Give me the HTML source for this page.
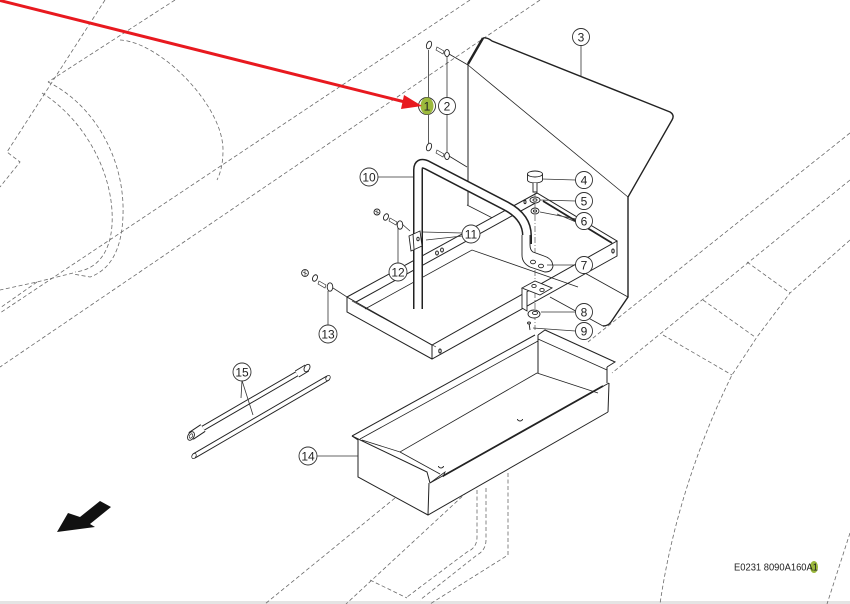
<!DOCTYPE html>
<html><head><meta charset="utf-8"><style>
html,body{margin:0;padding:0;background:#fff;}
svg{display:block;}
text{font-family:"Liberation Sans",Arial,sans-serif;}
</style></head><body>
<svg width="850" height="604" viewBox="0 0 850 604" xmlns="http://www.w3.org/2000/svg">
<rect width="850" height="604" fill="#fff"/>
<rect y="601" width="850" height="3" fill="#e4e4e4"/>

<!-- background dashed outlines -->
<g fill="none" stroke="#6a6a6a" stroke-width="0.8" stroke-dasharray="4 2.5">
 <path d="M105,0 L7,152 L20,162 L0,187"/>
 <path d="M175,0 L48,82"/>
 <path d="M120,40 C160,42 223,105 223,150 C223,165 220,174 217,180"/>
 <path d="M48,82 C95,105 125,160 123,215 C122,250 110,270 90,277 L73,274"/>
 <path d="M42,93 C85,120 115,175 112,225 C110,255 95,270 75,272"/>
 <path d="M73,273 L37,282 L0,290"/>
 <path d="M37,282 L0,308"/>
 <path d="M470,0 L0,313"/>
 <path d="M540,0 L0,367"/>
 <path d="M850,133 L588,342"/>
 <path d="M850,180 L612,373"/>
 <path d="M850,240 L790,293 L757,337 L732,375 C712,415 675,500 660,604"/>
 <path d="M747,262 L790,293 M703,300 L755,337 M663,335 L732,375"/>
 <path d="M850,533 L827,604"/>
 <path d="M395,498 L265,604"/>
 <path d="M467,492 L346,604"/>
 <path d="M477,490 L477,537 Q477,548 467,552 L407,597"/>
 <path d="M486,488 L486,540 Q486,550 477,555 L420,600"/>
 <path d="M508,473 L508,555 L430,604"/>
 <path d="M370,580 L407,598"/>
</g>

<!-- panel 3 -->
<path d="M468,63 L483,38 Q487,37 492,41 L670,112 Q675,115 672,120 L628,197 L628,297 L611,322 Q608,326 603,326 L550,297 L520,232 L467,205 Z" fill="#fff"/>
<g fill="none" stroke="#222" stroke-width="1">
 <path d="M468,205 L468,63"/>
 <path d="M468,64 L483,38" stroke-width="2.4"/>
 <path d="M483,38 Q487,37 492,41 L670,112 Q675,115 672,120 L628,197 L628,297 L611,322 Q608,326 603,326" stroke-width="1.4"/>
 <path d="M468,65 L628,197" stroke-width="0.8"/>
 <path d="M467,205 L520,232" stroke-width="0.8"/>
 <path d="M628,297 L583,272" stroke-width="0.8"/>
 <path d="M603,326 L550,297" stroke-width="0.8"/>
 <path d="M449,54 L468,65" stroke-width="0.8"/>
 <path d="M449,156 L467,167" stroke-width="0.8"/>
</g>

<!-- frame -->
<path d="M347,297 L537,193 L617,241 L617,256 L432,359 L347,312 Z" fill="#fff"/>
<g fill="none" stroke="#222" stroke-width="1">
 <path d="M347,297 L537,193 L617,241 L432,345 Z"/>
 <path d="M347,297 L347,312 L432,359 L617,256 L617,241"/>
 <path d="M432,345 L432,359"/>
 <path d="M356,302 L539,201"/>
 <path d="M543,201 L612,243" stroke-width="1.8"/>
 <path d="M365,309 L472,250 L578,287" stroke-width="0.8"/>
 <path d="M352,301 L436,347" stroke-width="0.7"/>
 <ellipse cx="437" cy="253" rx="1.4" ry="2"/>
 <ellipse cx="442" cy="250" rx="1.4" ry="2"/>
 <ellipse cx="613" cy="251" rx="1.2" ry="2"/>
 <ellipse cx="440" cy="351" rx="1.2" ry="2"/>
 <ellipse cx="525" cy="202" rx="1" ry="1.7"/>
</g>

<!-- handle 10 -->
<path d="M418,309 L418,170 Q418,161 427,165 L506,206 Q527,217 527,236 L527,244" stroke="#222" stroke-width="10" fill="none"/>
<path d="M418,310 L418,170 Q418,161 427,165 L506,206 Q527,217 527,236 L527,245" stroke="#fff" stroke-width="7" fill="none"/>

<!-- centerline -->
<path d="M535,193 L535,330" stroke="#333" stroke-width="0.6" stroke-dasharray="6 2 1 2" fill="none"/>

<!-- brackets & hardware -->
<g stroke="#222" stroke-width="0.9" fill="#fff">
 <path d="M522,235 L522,255 Q522,263 530,267 L545,272 Q552,272 553,266 L552,262 Q550,258 544,256 L533,252 Q530,250 530,245 L530,235"/>
 <ellipse cx="533" cy="262" rx="2.5" ry="1.8"/>
 <ellipse cx="541" cy="266" rx="2.5" ry="1.8"/>
 <path d="M522,288 L535,281 L552,288 L540,295 Z"/>
 <path d="M522,288 L522,308 L527,311 L527,292" />
 <ellipse cx="534" cy="286" rx="2.2" ry="1.6"/>
 <ellipse cx="542" cy="290" rx="2.2" ry="1.6"/>
 <ellipse cx="534" cy="314" rx="6" ry="4"/>
 <ellipse cx="535" cy="313" rx="2.5" ry="1.6"/>
 <path d="M529,323 L530,330" fill="none"/>
 <ellipse cx="529" cy="323" rx="1.5" ry="1"/>
 <!-- knob 4 -->
 <path d="M527.5,174 L527.5,180 A7.5,3 0 0 0 542.5,180 L542.5,174"/>
 <ellipse cx="535" cy="174" rx="7.5" ry="3"/>
 <path d="M533,183 L533,192 L537,192 L537,183" />
 <!-- washers 5,6 -->
 <ellipse cx="535" cy="200" rx="5" ry="3"/>
 <ellipse cx="535" cy="200" rx="2" ry="1.2"/>
 <ellipse cx="535" cy="211" rx="4" ry="3"/>
 <ellipse cx="535" cy="211" rx="1.6" ry="1.1"/>
 <!-- clip 11 -->
 <path d="M409,236 L420,231 L422,246 L411,251 Z"/>
 <path d="M413,234 L414,249" fill="none"/>
 <ellipse cx="418" cy="239" rx="1.2" ry="1.8"/>
 <!-- fasteners 12 -->
 <circle cx="377" cy="212" r="3"/>
 <path d="M375,211 L379,213 M377,210 L377,214" fill="none" stroke-width="0.6"/>
 <ellipse cx="386" cy="217" rx="2.3" ry="3.4" transform="rotate(25 386 217)"/>
 <path d="M390,218 L397,222 L396,225 L389,221 Z" stroke-width="0.6"/>
 <ellipse cx="400" cy="225" rx="2.8" ry="4.2"/>
 <!-- fasteners 13 -->
 <circle cx="305" cy="273" r="3.4"/>
 <path d="M303,272 L307,274 M305,270 L305,276" fill="none" stroke-width="0.6"/>
 <ellipse cx="315" cy="278" rx="2.3" ry="3.4" transform="rotate(25 315 278)"/>
 <path d="M319,281 L326,285 L325,288 L318,284 Z" stroke-width="0.6"/>
 <ellipse cx="330" cy="287" rx="2.8" ry="4.2"/>
 <!-- top washers / bolts 1,2 -->
 <ellipse cx="429" cy="45" rx="2.4" ry="4" transform="rotate(20 429 45)"/>
 <ellipse cx="429" cy="147" rx="2.4" ry="4" transform="rotate(20 429 147)"/>
 <path d="M437,47 L444,51 L443,54 L436,50 Z" stroke-width="0.6"/>
 <ellipse cx="447" cy="53" rx="2.4" ry="3.6"/>
 <path d="M437,150 L444,154 L443,157 L436,153 Z" stroke-width="0.6"/>
 <ellipse cx="447" cy="156" rx="2.4" ry="3.6"/>
</g>

<!-- tray 14 -->
<path d="M352,436 L535,335 L545,329 L615,362 L607,367 L608,412 L428,515 L358,477 L358,440 Z" fill="#fff"/>
<g fill="none" stroke="#222" stroke-width="1">
 <path d="M352,436 L535,335"/>
 <path d="M360,439 L538,341" stroke-width="0.8"/>
 <path d="M362,440 L400,452 L537,373" stroke-width="0.8"/>
 <path d="M538,335 L538,373"/>
 <path d="M538,335 L545,330 L615,362 L607,367"/>
 <path d="M538,339 L607,370" stroke-width="0.8"/>
 <path d="M537,373 L598,393" stroke-width="0.8"/>
 <path d="M607,367 L607,383"/>
 <path d="M609,383 L608,412"/>
 <path d="M430,483 L609,383"/>
 <path d="M443,476 L603,386" stroke-width="1.8"/>
 <path d="M430,483 L445,472 L443,477" stroke-width="0.8"/>
 <path d="M400,452 L440,474" stroke-width="0.8"/>
 <path d="M352,436 L427,472 L430,483"/>
 <path d="M352,436 L358,440 L358,477 L428,515 L608,412"/>
 <path d="M429,483 L428,515"/>
 <path d="M517.5,419 A2.5,2 0 0 0 522.5,419"/>
 <path d="M438.5,466 A2.5,2 0 0 0 443.5,466"/>
</g>

<!-- tools 15 -->
<g fill="none">
 <path d="M194,456 L328,378" stroke="#222" stroke-width="5.5"/>
 <path d="M194,456 L328,378" stroke="#fff" stroke-width="3.6"/>
 <ellipse cx="194" cy="456" rx="2" ry="2.8" transform="rotate(30 194 456)" fill="#fff" stroke="#222" stroke-width="0.8"/>
 <ellipse cx="328" cy="378" rx="2" ry="2.8" transform="rotate(30 328 378)" fill="#fff" stroke="#222" stroke-width="0.8"/>
 <path d="M200,430 L300,372" stroke="#222" stroke-width="5.5"/>
 <path d="M200,430 L300,372" stroke="#fff" stroke-width="3.6"/>
 <path d="M191,436 L203,428" stroke="#222" stroke-width="9"/>
 <path d="M191,436 L203,428" stroke="#fff" stroke-width="7"/>
 <ellipse cx="191" cy="436" rx="3" ry="4.6" transform="rotate(30 191 436)" fill="#fff" stroke="#222" stroke-width="0.9"/>
 <ellipse cx="191" cy="436" rx="1.5" ry="2.4" transform="rotate(30 191 436)" fill="#fff" stroke="#222" stroke-width="0.7"/>
 <path d="M297,374 L307,368" stroke="#222" stroke-width="8"/>
 <path d="M297,374 L307,368" stroke="#fff" stroke-width="6"/>
 <ellipse cx="307" cy="368" rx="2.6" ry="4" transform="rotate(30 307 368)" fill="#fff" stroke="#222" stroke-width="0.9"/>
</g>

<!-- leaders -->
<g fill="none" stroke="#333" stroke-width="0.8">
 <path d="M428.5,50 L428.5,97 M428.5,115 L428.5,143"/>
 <path d="M447,57 L447,97.5 M447,114.5 L447,152"/>
 <path d="M581,45.5 L581,77"/>
 <path d="M542,179 L575.5,180"/>
 <path d="M540,200 L575.5,201"/>
 <path d="M540,212 L576,219 M557,214 L576,222"/>
 <path d="M547,265 L575.5,265"/>
 <path d="M541,312 L575.5,312"/>
 <path d="M533,328 L575.5,331"/>
 <path d="M377.5,177 L413,177"/>
 <path d="M423,232 L462.5,233 M426,240 L462.5,236"/>
 <path d="M398,228 L398,263"/>
 <path d="M402,224 L410,231"/>
 <path d="M328,291 L328,325.5"/>
 <path d="M333,288 L347,297"/>
 <path d="M316.5,456 L358,456"/>
 <path d="M242,380.5 L241,398 M242,380.5 L253,415"/>
</g>

<!-- callouts -->
<g stroke="#333" stroke-width="0.9" fill="#fff">
 <circle cx="427" cy="106" r="8.5"/>
 <circle cx="447" cy="106" r="8.5"/>
 <circle cx="581" cy="37" r="8.5"/>
 <circle cx="584" cy="180" r="8.5"/>
 <circle cx="584" cy="201" r="8.5"/>
 <circle cx="584" cy="221" r="8.5"/>
 <circle cx="584" cy="265" r="8.5"/>
 <circle cx="584" cy="312" r="8.5"/>
 <circle cx="584" cy="331" r="8.5"/>
 <circle cx="369" cy="177" r="9"/>
 <circle cx="471" cy="234" r="9"/>
 <circle cx="398" cy="272" r="9"/>
 <circle cx="328" cy="334" r="9"/>
 <circle cx="308" cy="456" r="9"/>
 <circle cx="242" cy="372" r="9"/>
</g>
<ellipse cx="427" cy="106" rx="6.5" ry="8.5" fill="#9cb93c"/>
<g font-size="12" fill="#222" text-anchor="middle">
 <text x="427" y="110.5">1</text>
 <text x="447" y="110.5">2</text>
 <text x="581" y="41.5">3</text>
 <text x="584" y="184.5">4</text>
 <text x="584" y="205.5">5</text>
 <text x="584" y="225.5">6</text>
 <text x="584" y="269.5">7</text>
 <text x="584" y="316.5">8</text>
 <text x="584" y="335.5">9</text>
 <text x="369" y="181.5">10</text>
 <text x="471" y="238.5">11</text>
 <text x="398" y="276.5">12</text>
 <text x="328" y="338.5">13</text>
 <text x="308" y="460.5">14</text>
 <text x="242" y="376.5">15</text>
</g>

<!-- direction arrow -->
<polygon points="57,532 68,513 80,517 100,501 111,507 90,524 95,527" fill="#111"/>

<!-- red arrow -->
<path d="M-2,0 L405,102" stroke="#e8191f" stroke-width="3" fill="none"/>
<polygon points="422,106 404,95 401,109" fill="#e8191f"/>

<!-- code -->
<ellipse cx="814" cy="567" rx="4" ry="6" fill="#9cb93c"/>
<text x="734" y="570.5" font-size="10" fill="#222" textLength="84" lengthAdjust="spacingAndGlyphs">E0231 8090A160A1</text>
</svg>
</body></html>
